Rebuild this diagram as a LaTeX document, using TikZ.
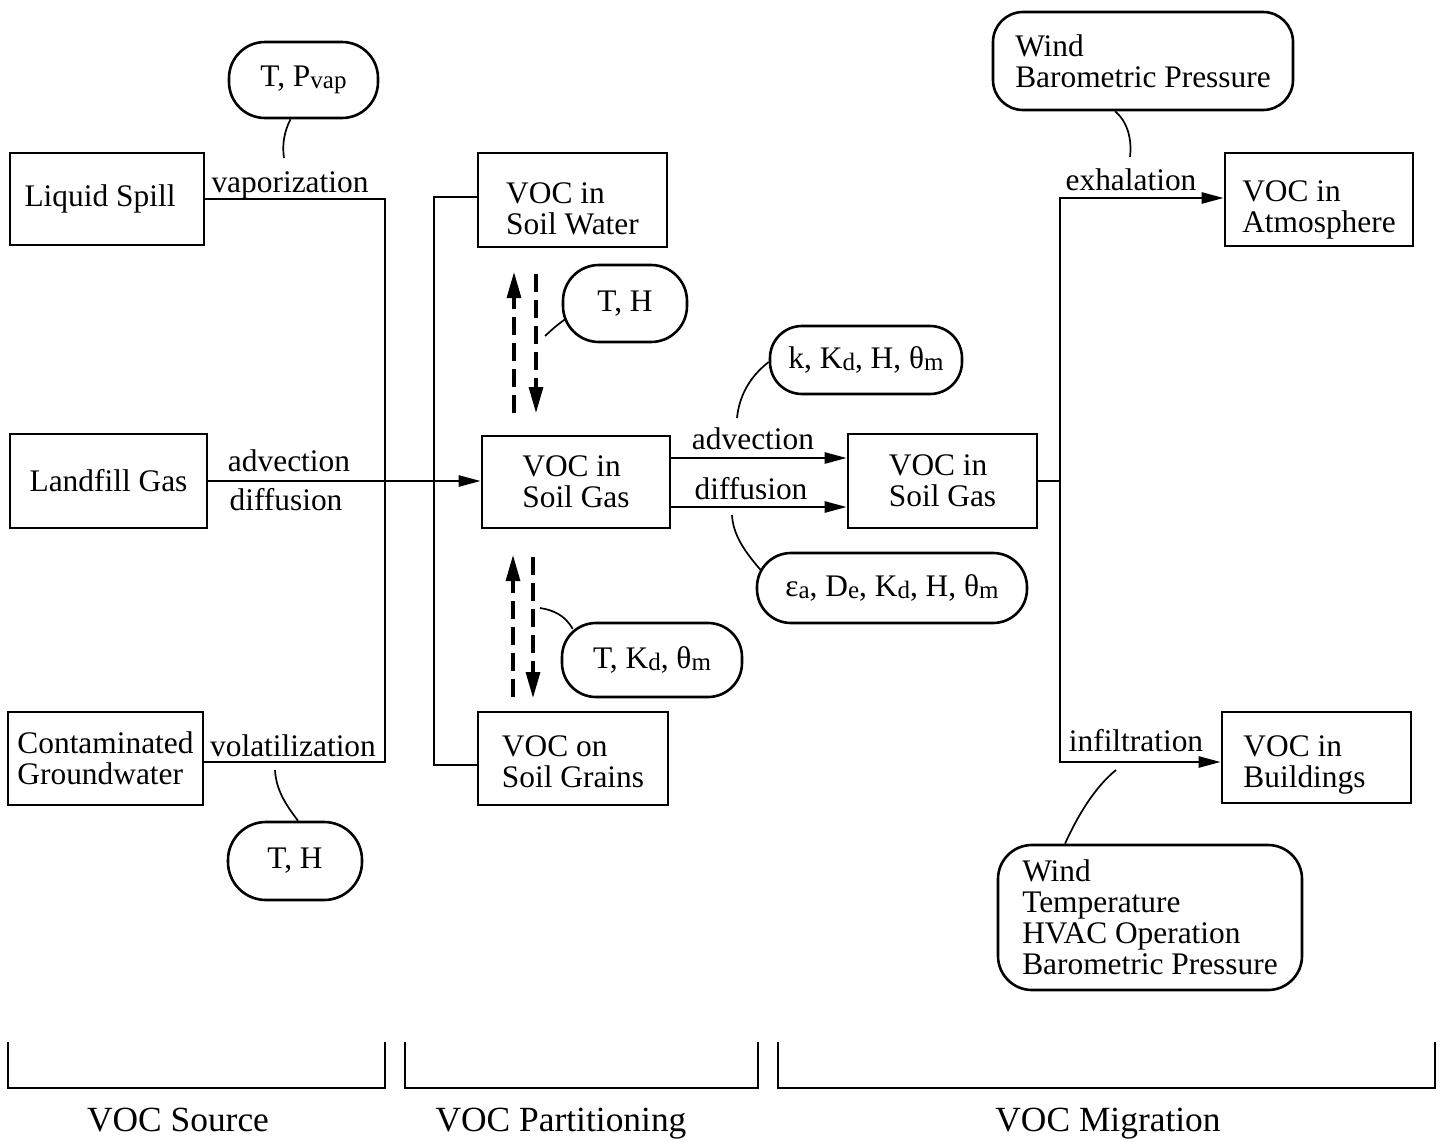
\documentclass[tikz,border=0pt]{standalone}
\usepackage{fontspec}
\setmainfont{Liberation Serif}
\usetikzlibrary{arrows.meta,calc}
\newcommand{\lo}[1]{\raisebox{-0.12ex}{\fontsize{12.5}{13}\selectfont #1}}
\begin{document}
\begin{tikzpicture}[x=0.5pt,y=-0.5pt,
  every node/.style={font=\fontsize{15.7}{15.5}\selectfont},
  box/.style={draw,line width=1.3pt,align=left,inner sep=2pt},
  bub/.style={draw,line width=1.3pt,align=left,inner sep=2pt},
  wire/.style={line width=1.25pt,line cap=rect},
  arr/.style={wire,-{Triangle[length=11pt,width=5.5pt]}},
  tie/.style={line width=0.85pt},
  dsh/.style={line width=1.6pt,dash pattern=on 9pt off 4pt,-{Triangle[length=13pt,width=7pt]}},
  lbl/.style={inner sep=0pt},
  captxt/.style={inner sep=0pt,anchor=base,font=\fontsize{17.7}{18}\selectfont}
]
\useasboundingbox (0,0) rectangle (1446,1141);

% boxes
\node[box,minimum width=97pt,minimum height=46pt] (ls) at (107,199) {Liquid Spill\hspace*{7pt}};
\node[box,minimum width=98.5pt,minimum height=47pt] (lg) at (108.5,481) {Landfill Gas};
\node[box,minimum width=97.5pt,minimum height=46.5pt,inner sep=0pt] (cg) at (105.5,758.5) {Contaminated\\Groundwater};
\node[box,minimum width=94.5pt,minimum height=47pt] (sw) at (572.5,200) {\rule{0pt}{19pt}VOC in\\Soil Water};
\node[box,minimum width=94pt,minimum height=46pt] (sg) at (576,482) {VOC in\\Soil Gas};
\node[box,minimum width=95pt,minimum height=46.5pt] (gr) at (573,758.5) {\rule{0pt}{14pt}VOC on\\Soil Grains};
\node[box,minimum width=94.5pt,minimum height=47pt] (sg2) at (942.5,481) {VOC in\\Soil Gas};
\node[box,minimum width=94pt,minimum height=46.5pt] (at) at (1319,199.5) {\rule{0pt}{21pt}VOC in\\Atmosphere};
\node[box,minimum width=94.5pt,minimum height=45.5pt] (bu) at (1316.5,757.5) {\rule{0pt}{18pt}VOC in\\Buildings\hspace*{12pt}};

% bubbles
\node[bub,minimum width=74.5pt,minimum height=38pt,rounded corners=18pt] (tp) at (303.5,80) {T, P\lo{vap}};
\node[bub,minimum width=62pt,minimum height=38.5pt,rounded corners=18pt] (th1) at (625,303.5) {T, H};
\node[bub,minimum width=96pt,minimum height=34pt,rounded corners=16pt] (kk) at (866,360) {k, K\lo{d}, H, θ\lo{m}};
\node[bub,minimum width=135pt,minimum height=35pt,rounded corners=17pt] (ea) at (892,588) {ε\lo{a}, D\lo{e}, K\lo{d}, H, θ\lo{m}};
\node[bub,minimum width=90pt,minimum height=37pt,rounded corners=17pt] (tk) at (652,660) {T, K\lo{d}, θ\lo{m}};
\node[bub,minimum width=67pt,minimum height=39pt,rounded corners=19pt] (th2) at (295,861) {T, H};
\node[bub,minimum width=150pt,minimum height=49pt,rounded corners=15pt] (wb) at (1143,61) {Wind\\Barometric Pressure};
\node[bub,minimum width=152pt,minimum height=72.5pt,rounded corners=17pt] (wt) at (1150,917.5) {Wind\\Temperature\\HVAC Operation\\Barometric Pressure};

% source connectors
\coordinate (j1) at (385,199);
\coordinate (j2) at (385,762);
\draw[wire] (ls.east) -- (j1) -- (j2) -- (j2 -| cg.east);
\draw[arr] (lg.east) -- (lg.east -| sg.west);

% partitioning
\coordinate (p1) at (434,197);
\coordinate (p2) at (434,765);
\draw[wire] (p1 -| sw.west) -- (p1) -- (p2) -- (p2 -| gr.west);

\draw[arr] ([yshift=12pt]sg.east) -- ([yshift=12pt]sg.east -| sg2.west);
\draw[arr] ([yshift=-12.5pt]sg.east) -- ([yshift=-12.5pt]sg.east -| sg2.west);

% migration
\coordinate (m1) at (1060,198);
\coordinate (m2) at (1060,762);
\draw[wire] (sg2.east) -- (sg2.east -| m1);
\draw[arr] (m2) -- (m1) -- (m1 -| at.west);
\draw[arr] (m2) -- (m2 -| bu.west);

% dashed exchange arrows
\coordinate (u1s) at (514,413);
\coordinate (u1e) at (514,272);
\coordinate (u2s) at (536,274);
\coordinate (u2e) at (536,413);
\coordinate (l1s) at (513,697);
\coordinate (l1e) at (513,555);
\coordinate (l2s) at (533,557);
\coordinate (l2e) at (533,698);
\draw[dsh] (u1s) -- (u1e);
\draw[dsh] (u2s) -- (u2e);
\draw[dsh] (l1s) -- (l1e);
\draw[dsh] (l2s) -- (l2e);

% ties
\coordinate (t1) at (284,158);
\coordinate (t2) at (545,336);
\coordinate (t3) at (737,418);
\coordinate (t4) at (732,515);
\coordinate (t5) at (540,608);
\coordinate (t6) at (275,770);
\coordinate (t7) at (1130,157);
\coordinate (t8) at (1116,770);
\draw[tie] ([shift={(-13,0)}]tp.south) .. controls (284,132) and (282,145) .. (t1);
\draw[tie] ([shift={(3,16)}]th1.west) .. controls (556,326) .. (t2);
\draw[tie] ([shift={(0,2)}]kk.west) .. controls (748,378) and (739,398) .. (t3);
\draw[tie] ([shift={(5,-18)}]ea.west) .. controls (745,552) and (733,535) .. (t4);
\draw[tie] ([shift={(12,-31)}]tk.west) .. controls (565,615) and (553,610) .. (t5);
\draw[tie] ([shift={(3,0)}]th2.north) .. controls (286,805) and (276,790) .. (t6);
\draw[tie] ([shift={(-28,0)}]wb.south) .. controls (1128,122) and (1132,140) .. (t7);
\draw[tie] ([shift={(-85,0)}]wt.north) .. controls (1078,815) and (1095,787) .. (t8);

% labels
\node[lbl] (vap) at (290,185) {vaporization};
\node[lbl] (adv1) at (289,461) {advection};
\node[lbl] (dif1) at (286,500) {diffusion};
\node[lbl] (vol) at (293,746) {volatilization};
\node[lbl] (adv2) at (753,439) {advection};
\node[lbl] (dif2) at (751,489) {diffusion};
\node[lbl] (exh) at (1131,180) {exhalation};
\node[lbl] (inf) at (1136,741) {infiltration};

% bottom brackets
\draw[wire] (8,1043) -- (8,1088) -- (385,1088) -- (385,1043);
\draw[wire] (405,1043) -- (405,1088) -- (758,1088) -- (758,1043);
\draw[wire] (778,1043) -- (778,1088) -- (1435,1088) -- (1435,1043);
\node[captxt] (src) at (178,1131) {VOC Source};
\node[captxt] (prt) at (561,1131) {VOC Partitioning};
\node[captxt] (mig) at (1108,1131) {VOC Migration};
\end{tikzpicture}
\end{document}
